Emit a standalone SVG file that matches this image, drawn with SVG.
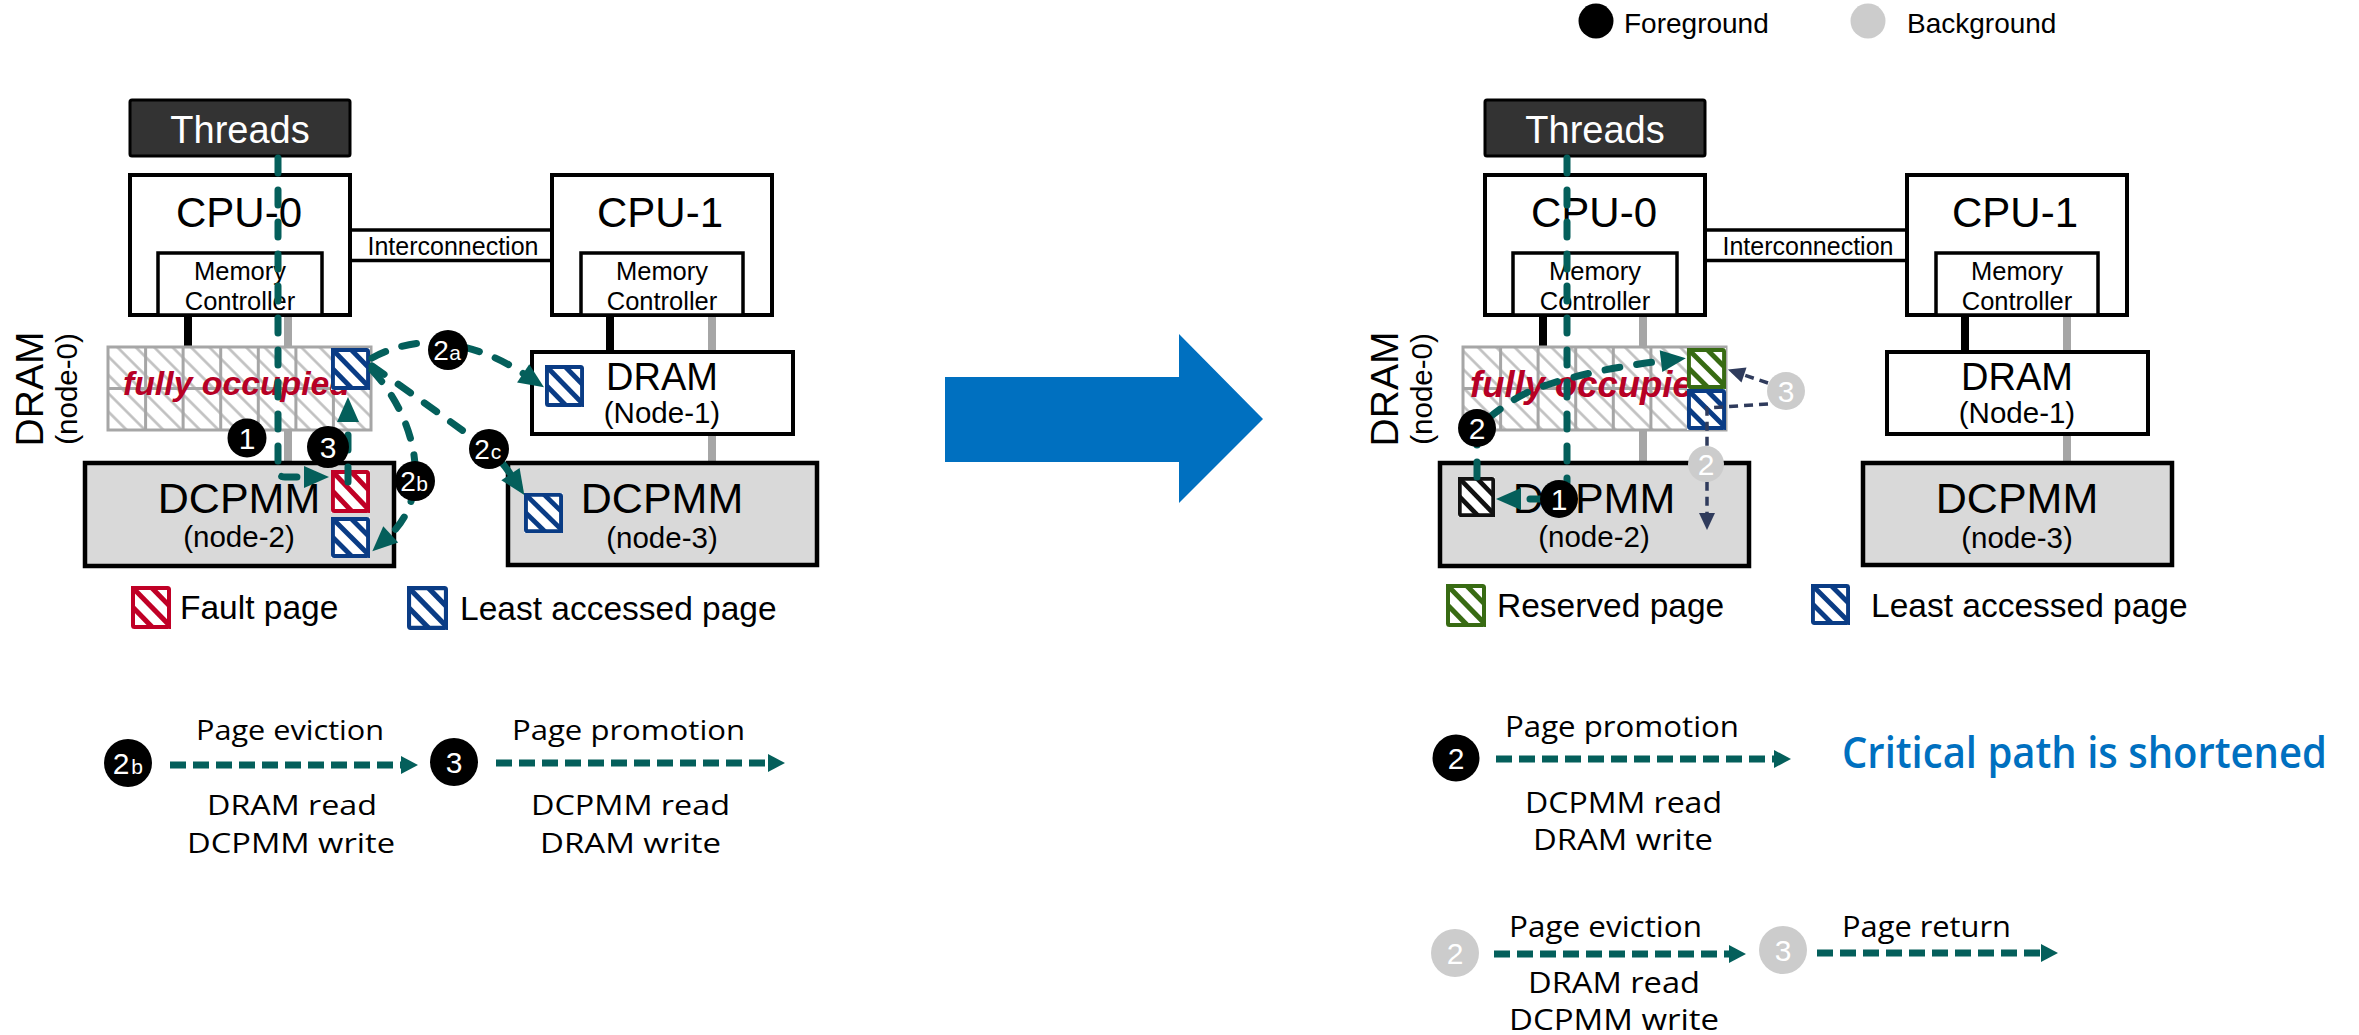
<svg xmlns="http://www.w3.org/2000/svg" xmlns:xlink="http://www.w3.org/1999/xlink" width="2359" height="1035" viewBox="0 0 2359 1035">
<style>
text{font-family:"Liberation Sans",Arial,sans-serif;fill:#000;}
.box{fill:#fff;stroke:#000;stroke-width:4;}
.mc{fill:#fff;stroke:#000;stroke-width:3.5;}
.pm{fill:#d9d9d9;stroke:#000;stroke-width:4.5;}
.thr{fill:#333;stroke:#000;stroke-width:3;}
.grid{fill:url(#hatch);stroke:#a6a6a6;stroke-width:3;}
.gl{stroke:#a6a6a6;stroke-width:3;}
.ic{stroke:#000;stroke-width:3.5;}
.bus-k{stroke:#000;stroke-width:8;}
.bus-g{stroke:#a6a6a6;stroke-width:8;}
.flow{fill:none;stroke:#045f5b;stroke-width:7;stroke-linecap:round;stroke-dasharray:15 17;}
.bgf{fill:none;stroke:#2f3b5c;stroke-width:3.5;stroke-dasharray:9 6;}
.seq{fill:none;stroke:#045f5b;stroke-width:7;stroke-dasharray:16 7;}
.ck{fill:#000;}
.cg{fill:#cccccc;}
.num{fill:#fff;font-size:30px;text-anchor:middle;}
.sub{fill:#fff;font-size:21px;text-anchor:middle;}
.mid{text-anchor:middle;}
.big{font-size:42px;}
.mem{font-size:25.5px;}
.nd{font-size:29.5px;}
.lg{font-size:33.5px;}
.fo{fill:#b70025;font-weight:bold;font-style:italic;}
.sg{font-family:"Open Sans","Noto Sans",sans-serif;}
</style>
<defs>
<pattern id="hatch" patternUnits="userSpaceOnUse" width="13" height="13" patternTransform="rotate(-45)">
<rect width="13" height="13" fill="#fff"/>
<line x1="6.5" y1="0" x2="6.5" y2="13" stroke="#bdbdbd" stroke-width="2.5"/>
</pattern>
<symbol id="pg" viewBox="0 0 40 42" preserveAspectRatio="none">
<rect width="40" height="42" fill="#fff"/>
<g stroke="currentColor" stroke-width="5">
<line x1="-5" y1="-5" x2="47" y2="47"/>
<line x1="14" y1="-5" x2="66" y2="47"/>
<line x1="-5" y1="14" x2="47" y2="66"/>
</g>
<rect x="2" y="2" width="36" height="38" rx="1.5" fill="none" stroke="currentColor" stroke-width="4"/>
</symbol>
<marker id="ah" markerUnits="userSpaceOnUse" markerWidth="26" markerHeight="22" refX="1" refY="11" orient="auto" overflow="visible">
<path d="M0,0 L25,11 L0,22 z" fill="#045f5b"/>
</marker>
<marker id="ahs" markerUnits="userSpaceOnUse" markerWidth="18" markerHeight="18" refX="0" refY="9" orient="auto" overflow="visible">
<path d="M0,0 L17,9 L0,18 z" fill="#045f5b"/>
</marker>
<marker id="ahn" markerUnits="userSpaceOnUse" markerWidth="18" markerHeight="16" refX="0" refY="8" orient="auto" overflow="visible">
<path d="M0,0 L17,8 L0,16 z" fill="#2f3b5c"/>
</marker>
</defs>
<rect width="2359" height="1035" fill="#fff"/>

<!-- memory buses -->
<g id="buses">
<line class="bus-k" x1="188" y1="313" x2="188" y2="349"/>
<line class="bus-g" x1="288" y1="313" x2="288" y2="465"/>
<line class="bus-k" x1="610" y1="313" x2="610" y2="354"/>
<line class="bus-g" x1="712" y1="313" x2="712" y2="465"/>
<line class="bus-k" x1="1543" y1="313" x2="1543" y2="349"/>
<line class="bus-g" x1="1643" y1="313" x2="1643" y2="465"/>
<line class="bus-k" x1="1965" y1="313" x2="1965" y2="354"/>
<line class="bus-g" x1="2067" y1="313" x2="2067" y2="465"/>
</g>

<!-- LEFT -->
<g id="l-threads"><rect class="thr" x="130" y="100" width="220" height="56" rx="2"/><text x="240" y="143" class="mid" style="fill:#fff;font-size:38px">Threads</text></g>
<g id="l-cpu0"><rect class="box" x="130" y="175" width="220" height="140"/><text x="239" y="227" class="mid big">CPU-0</text>
<rect class="mc" x="158" y="253" width="164" height="62"/><text x="240" y="280" class="mid mem">Memory</text><text x="240" y="310" class="mid mem">Controller</text></g>
<g id="l-interconnect"><line class="ic" x1="350" y1="230" x2="552" y2="230"/><line class="ic" x1="350" y1="260.5" x2="552" y2="260.5"/><text x="453" y="255" class="mid" style="font-size:25px">Interconnection</text></g>
<g id="l-cpu1"><rect class="box" x="552" y="175" width="220" height="140"/><text x="660" y="227" class="mid big">CPU-1</text>
<rect class="mc" x="581" y="253" width="162" height="62"/><text x="662" y="280" class="mid mem">Memory</text><text x="662" y="310" class="mid mem">Controller</text></g>
<g id="l-dram0">
<rect class="grid" x="108" y="347" width="263" height="83"/>
<path class="gl" d="M145.6,347V430M183.1,347V430M220.7,347V430M258.3,347V430M295.9,347V430M333.4,347V430M108,388.5H371"/>
<text x="123" y="395" class="fo" style="font-size:33.5px" textLength="227" lengthAdjust="spacingAndGlyphs">fully occupied</text>
<use href="#pg" x="331" y="348" width="39" height="42" color="#0a3c85"/>
<text transform="translate(43 389) rotate(-90)" class="mid" style="font-size:39px">DRAM</text>
<text transform="translate(77 389) rotate(-90)" class="mid nd">(node-0)</text>
</g>
<g id="l-dram1"><rect class="box" x="532" y="352" width="261" height="82"/><text x="662" y="390" class="mid" style="font-size:38px">DRAM</text><text x="662" y="423" class="mid nd">(Node-1)</text>
<use href="#pg" x="545" y="365" width="39" height="42" color="#0a3c85"/></g>
<g id="l-dcpmm2"><rect class="pm" x="85" y="463" width="309" height="103"/><text x="239" y="513" class="mid" style="font-size:43px">DCPMM</text><text x="239" y="547" class="mid nd">(node-2)</text>
<use href="#pg" x="331" y="470" width="39" height="43" color="#c00026"/>
<use href="#pg" x="331" y="517" width="39" height="41" color="#0a3c85"/></g>
<g id="l-dcpmm3"><rect class="pm" x="508" y="463" width="309" height="102"/><text x="662" y="513" class="mid" style="font-size:43px">DCPMM</text><text x="662" y="548" class="mid nd">(node-3)</text>
<use href="#pg" x="524" y="493" width="39" height="40" color="#0a3c85"/></g>
<g id="l-legend">
<use href="#pg" x="131" y="586" width="40" height="43" color="#c00026"/><text x="180" y="619" class="lg">Fault page</text>
<use href="#pg" x="407" y="586" width="41" height="44" color="#0a3c85"/><text x="460" y="620" class="lg">Least accessed page</text>
</g>

<!-- RIGHT -->
<g id="r-threads"><rect class="thr" x="1485" y="100" width="220" height="56" rx="2"/><text x="1595" y="143" class="mid" style="fill:#fff;font-size:38px">Threads</text></g>
<g id="r-cpu0"><rect class="box" x="1485" y="175" width="220" height="140"/><text x="1594" y="227" class="mid big">CPU-0</text>
<rect class="mc" x="1513" y="253" width="164" height="62"/><text x="1595" y="280" class="mid mem">Memory</text><text x="1595" y="310" class="mid mem">Controller</text></g>
<g id="r-interconnect"><line class="ic" x1="1705" y1="230" x2="1907" y2="230"/><line class="ic" x1="1705" y1="260.5" x2="1907" y2="260.5"/><text x="1808" y="255" class="mid" style="font-size:25px">Interconnection</text></g>
<g id="r-cpu1"><rect class="box" x="1907" y="175" width="220" height="140"/><text x="2015" y="227" class="mid big">CPU-1</text>
<rect class="mc" x="1936" y="253" width="162" height="62"/><text x="2017" y="280" class="mid mem">Memory</text><text x="2017" y="310" class="mid mem">Controller</text></g>
<g id="r-dram0">
<rect class="grid" x="1463" y="347" width="263" height="83"/>
<path class="gl" d="M1500.6,347V430M1538.1,347V430M1575.7,347V430M1613.3,347V430M1650.9,347V430M1688.4,347V430M1463,388.5H1726"/>
<text x="1470" y="397" class="fo" style="font-size:36px" textLength="245" lengthAdjust="spacingAndGlyphs">fully occupied</text>
<use href="#pg" x="1687" y="348" width="39" height="41" color="#386b13"/>
<use href="#pg" x="1687" y="389" width="39" height="41" color="#0a3c85"/>
<text transform="translate(1398 389) rotate(-90)" class="mid" style="font-size:39px">DRAM</text>
<text transform="translate(1432 389) rotate(-90)" class="mid nd">(node-0)</text>
</g>
<g id="r-dram1"><rect class="box" x="1887" y="352" width="261" height="82"/><text x="2017" y="390" class="mid" style="font-size:38px">DRAM</text><text x="2017" y="423" class="mid nd">(Node-1)</text></g>
<g id="r-dcpmm2"><rect class="pm" x="1440" y="463" width="309" height="103"/><text x="1594" y="513" class="mid" style="font-size:43px">DCPMM</text><text x="1594" y="547" class="mid nd">(node-2)</text>
<use href="#pg" x="1458" y="477" width="37" height="40" color="#111"/></g>
<g id="r-dcpmm3"><rect class="pm" x="1863" y="463" width="309" height="102"/><text x="2017" y="513" class="mid" style="font-size:43px">DCPMM</text><text x="2017" y="548" class="mid nd">(node-3)</text></g>
<g id="r-legend">
<use href="#pg" x="1446" y="584" width="40" height="43" color="#386b13"/><text x="1497" y="617" class="lg">Reserved page</text>
<use href="#pg" x="1811" y="584" width="39" height="41" color="#0a3c85"/><text x="1871" y="617" class="lg">Least accessed page</text>
</g>
<g id="top-legend">
<circle cx="1596" cy="21" r="17.5" class="ck"/><text x="1624" y="33" style="font-size:28px">Foreground</text>
<circle cx="1868" cy="21" r="17.5" class="cg"/><text x="1907" y="33" style="font-size:28px">Background</text>
</g>

<!-- big arrow -->
<g id="big-arrow"><polygon points="945,377 1179,377 1179,334 1263,419 1179,503 1179,462 945,462" fill="#0070c0"/></g>

<!-- connectors -->
<g id="connectors">
<path class="flow" d="M278,158 L278,470 Q278,477 285,477 L305,477" marker-end="url(#ah)"/>
<path class="flow" d="M348,482 L348,421" marker-end="url(#ah)"/>
<path class="flow" d="M372,358 C398,344 425,340 448,344 C475,348 500,358 524,374" marker-end="url(#ah)"/>
<path class="flow" d="M372,366 C410,392 455,425 488,449 C497,456 505,466 511,475" marker-end="url(#ah)"/>
<path class="flow" d="M372,370 C398,398 418,440 415,481 C413,505 403,523 390,535" marker-end="url(#ah)"/>
<path class="flow" d="M1567,158 L1567,482"/>
<path class="flow" d="M1545,499 L1520,499" marker-end="url(#ah)"/>
<path class="flow" d="M1477,477 L1477,428 C1495,412 1520,392 1547,385 C1580,374 1620,366 1662,361" marker-end="url(#ah)"/>
<path class="bgf" d="M1768,383 L1744,375" marker-end="url(#ahn)"/>
<path class="bgf" d="M1768,404 L1707,408 L1707,513" marker-end="url(#ahn)"/>
<path class="seq" d="M170,765 L401,765" marker-end="url(#ahs)"/>
<path class="seq" d="M496,763 L768,763" marker-end="url(#ahs)"/>
<path class="seq" d="M1496,759 L1774,759" marker-end="url(#ahs)"/>
<path class="seq" d="M1494,954 L1729,954" marker-end="url(#ahs)"/>
<path class="seq" d="M1817,953 L2041,953" marker-end="url(#ahs)"/>
</g>

<!-- step markers -->
<g id="steps">
<circle cx="247" cy="438" r="19.5" class="ck"/><text x="247" y="448.5" class="num">1</text>
<circle cx="328" cy="447" r="21" class="ck"/><text x="328" y="457.5" class="num">3</text>
<circle cx="448" cy="350" r="20" class="ck"/><text x="441" y="360" class="num" style="font-size:28px">2</text><text x="455" y="360" class="sub">a</text>
<circle cx="489" cy="449" r="20" class="ck"/><text x="482" y="459" class="num" style="font-size:28px">2</text><text x="496" y="459" class="sub">c</text>
<circle cx="415" cy="481" r="20" class="ck"/><text x="408" y="491" class="num" style="font-size:28px">2</text><text x="422" y="491" class="sub">b</text>
<circle cx="1559" cy="499" r="19" class="ck"/><text x="1559" y="509.5" class="num">1</text>
<circle cx="1477" cy="428" r="19" class="ck"/><text x="1477" y="438.5" class="num">2</text>
<circle cx="1786" cy="391" r="19" class="cg"/><text x="1786" y="401.5" class="num">3</text>
<circle cx="1706" cy="464" r="18" class="cg"/><text x="1706" y="474.5" class="num">2</text>
</g>

<!-- bottom sequences -->
<g id="seq-left">
<circle cx="128" cy="763" r="24" class="ck"/><text x="121" y="774" class="num">2</text><text x="137" y="774" class="sub">b</text>
<text x="196" y="740" class="sg" style="font-size:27px" textLength="188" lengthAdjust="spacingAndGlyphs">Page eviction</text>
<text x="207" y="815" class="sg" style="font-size:28px" textLength="170" lengthAdjust="spacingAndGlyphs">DRAM read</text>
<text x="187" y="853" class="sg" style="font-size:28px" textLength="208" lengthAdjust="spacingAndGlyphs">DCPMM write</text>
<circle cx="454" cy="762" r="24" class="ck"/><text x="454" y="773" class="num">3</text>
<text x="512" y="740" class="sg" style="font-size:27px" textLength="233" lengthAdjust="spacingAndGlyphs">Page promotion</text>
<text x="531" y="815" class="sg" style="font-size:28px" textLength="199" lengthAdjust="spacingAndGlyphs">DCPMM read</text>
<text x="540" y="853" class="sg" style="font-size:28px" textLength="181" lengthAdjust="spacingAndGlyphs">DRAM write</text>
</g>
<g id="seq-right">
<circle cx="1456" cy="758" r="23.5" class="ck"/><text x="1456" y="769" class="num">2</text>
<text x="1505" y="737" class="sg" style="font-size:30px" textLength="234" lengthAdjust="spacingAndGlyphs">Page promotion</text>
<text x="1525" y="813" class="sg" style="font-size:30px" textLength="197" lengthAdjust="spacingAndGlyphs">DCPMM read</text>
<text x="1533" y="850" class="sg" style="font-size:30px" textLength="180" lengthAdjust="spacingAndGlyphs">DRAM write</text>
<text x="1842" y="768" class="sg" style="font-size:43px;fill:#0070c0;font-weight:600" textLength="485" lengthAdjust="spacingAndGlyphs">Critical path is shortened</text>
<circle cx="1455" cy="953" r="24" class="cg"/><text x="1455" y="964" class="num">2</text>
<text x="1509" y="937" class="sg" style="font-size:30px" textLength="193" lengthAdjust="spacingAndGlyphs">Page eviction</text>
<text x="1528" y="993" class="sg" style="font-size:30px" textLength="172" lengthAdjust="spacingAndGlyphs">DRAM read</text>
<text x="1509" y="1030" class="sg" style="font-size:30px" textLength="210" lengthAdjust="spacingAndGlyphs">DCPMM write</text>
<circle cx="1783" cy="950" r="24" class="cg"/><text x="1783" y="961" class="num">3</text>
<text x="1842" y="937" class="sg" style="font-size:30px" textLength="169" lengthAdjust="spacingAndGlyphs">Page return</text>
</g>
</svg>
